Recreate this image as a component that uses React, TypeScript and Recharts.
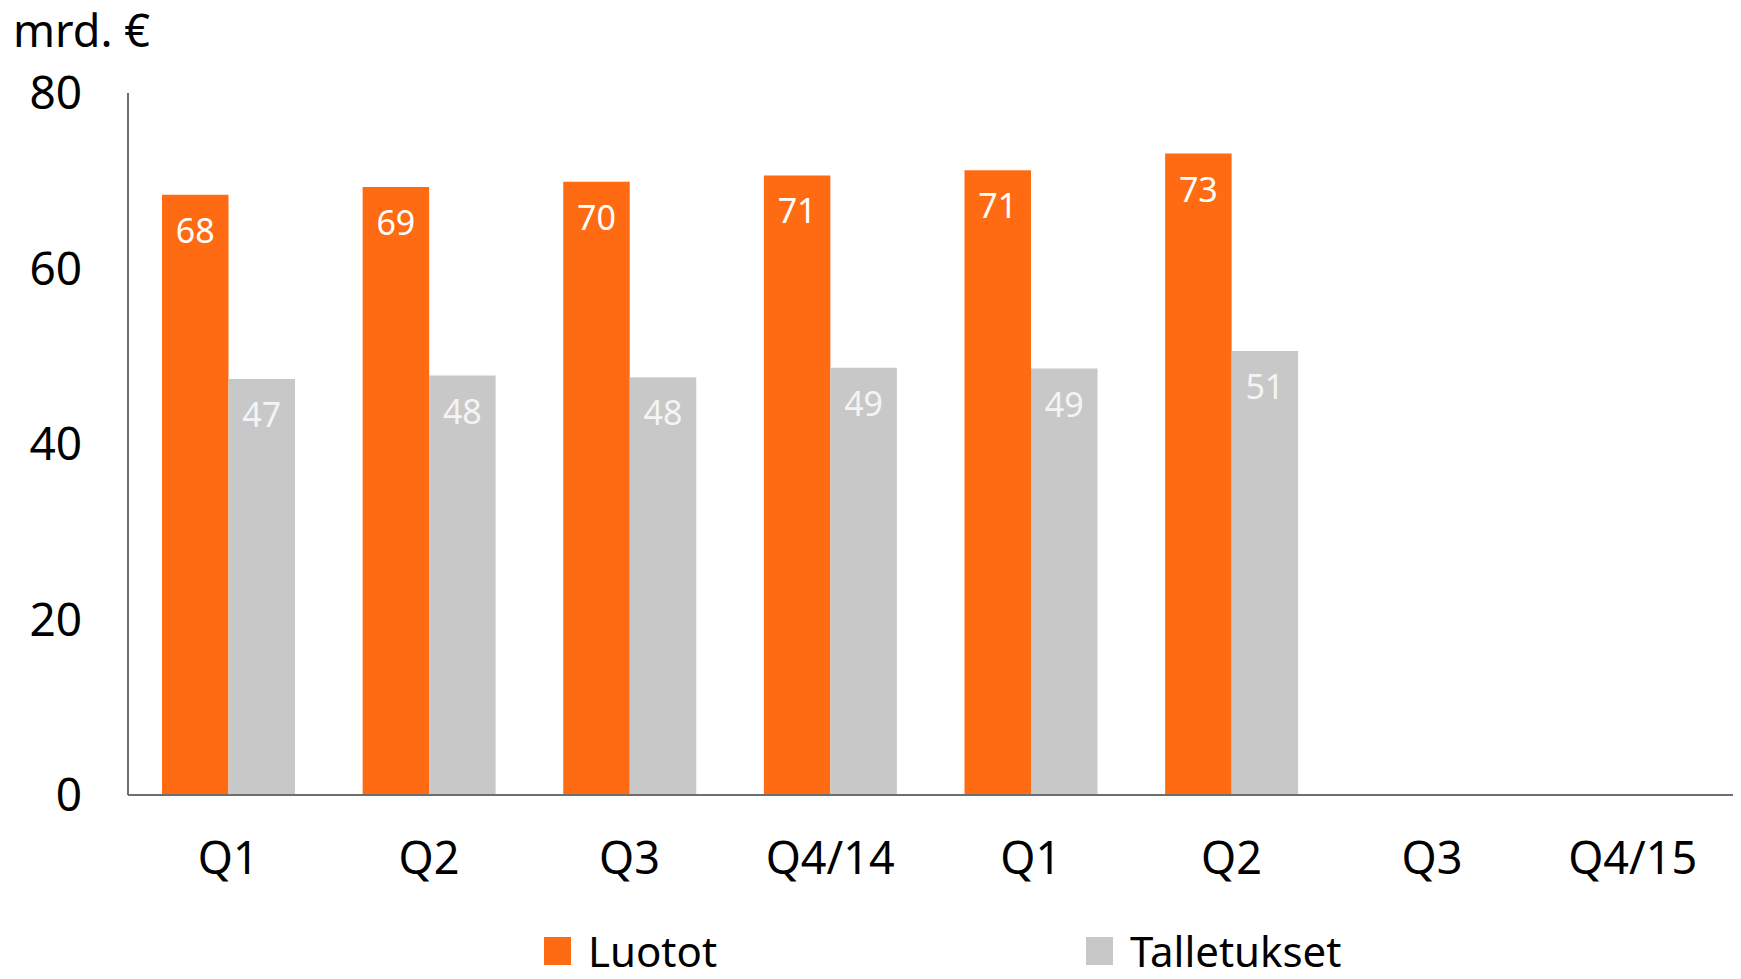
import React from 'react';
import { BarChart, Bar, XAxis, YAxis, LabelList } from 'recharts';

const quarters = ['Q1', 'Q2', 'Q3', 'Q4/14', 'Q1', 'Q2', 'Q3', 'Q4/15'];
const luotot = [68.4, 69.3, 69.9, 70.6, 71.2, 73.1, null, null];
const talletukset = [47.4, 47.8, 47.6, 48.7, 48.6, 50.6, null, null];
const yTicks = [0, 20, 40, 60, 80];

const ORANGE = '#ff6b12';
const GREY = '#c8c8c8';
const AXIS = '#6e6e6e';
const FONT = '"Noto Sans", sans-serif';

const data = quarters.map((q, i) => ({
    idx: i,
    quarter: q,
    luotot: luotot[i],
    talletukset: talletukset[i],
}));

const makeLabel = (color: string) => (props: any) => {
    const { x, y, width, value } = props;
    if (value == null) return null;
    return (
        <text
            x={x + width / 2}
            y={y + 35}
            fill={color}
            fontSize={34}
            fontFamily={FONT}
            textAnchor="middle"
            dominantBaseline="central"
        >
            {Math.round(value)}
        </text>
    );
};

const legendItems = [
    { name: 'Luotot', color: ORANGE, left: 544 },
    { name: 'Talletukset', color: GREY, left: 1086 },
];

export default function App() {
    return (
        <div style={{ position: 'absolute', left: 0, top: 0, width: 1741, height: 979, background: '#fff', fontFamily: FONT, overflow: 'hidden' }}>
            <div style={{ position: 'absolute', left: 13, top: 0, fontSize: 45, lineHeight: '60px', color: '#000' }}>
                mrd. €
            </div>
            <BarChart
                width={1741}
                height={979}
                data={data}
                margin={{ top: 93, right: 8, left: 0, bottom: 0 }}
                barGap={0}
                barSize={66.5}
            >
                <XAxis
                    dataKey="idx"
                    tickFormatter={(v: number) => quarters[v]}
                    height={184}
                    axisLine={{ stroke: AXIS, strokeWidth: 2 }}
                    tickLine={false}
                    tickMargin={41}
                    tick={{ fill: '#000', fontSize: 45, fontFamily: FONT }}
                    interval={0}
                />
                <YAxis
                    domain={[0, 80]}
                    ticks={yTicks}
                    width={128}
                    axisLine={{ stroke: AXIS, strokeWidth: 2 }}
                    tickLine={false}
                    tickMargin={40}
                    tick={{ fill: '#000', fontSize: 46, fontFamily: FONT }}
                />
                <Bar dataKey="luotot" fill={ORANGE} isAnimationActive={false}>
                    <LabelList dataKey="luotot" content={makeLabel('#ffffff')} />
                </Bar>
                <Bar dataKey="talletukset" fill={GREY} isAnimationActive={false}>
                    <LabelList dataKey="talletukset" content={makeLabel('#f4f4f4')} />
                </Bar>
            </BarChart>
            {legendItems.map((it) => (
                <div key={it.name} style={{ position: 'absolute', left: it.left, top: 931, height: 40, display: 'flex', alignItems: 'center' }}>
                    <div style={{ width: 27, height: 28, background: it.color, marginRight: 17 }} />
                    <span style={{ fontSize: 42, color: '#000', lineHeight: '40px' }}>{it.name}</span>
                </div>
            ))}
        </div>
    );
}
